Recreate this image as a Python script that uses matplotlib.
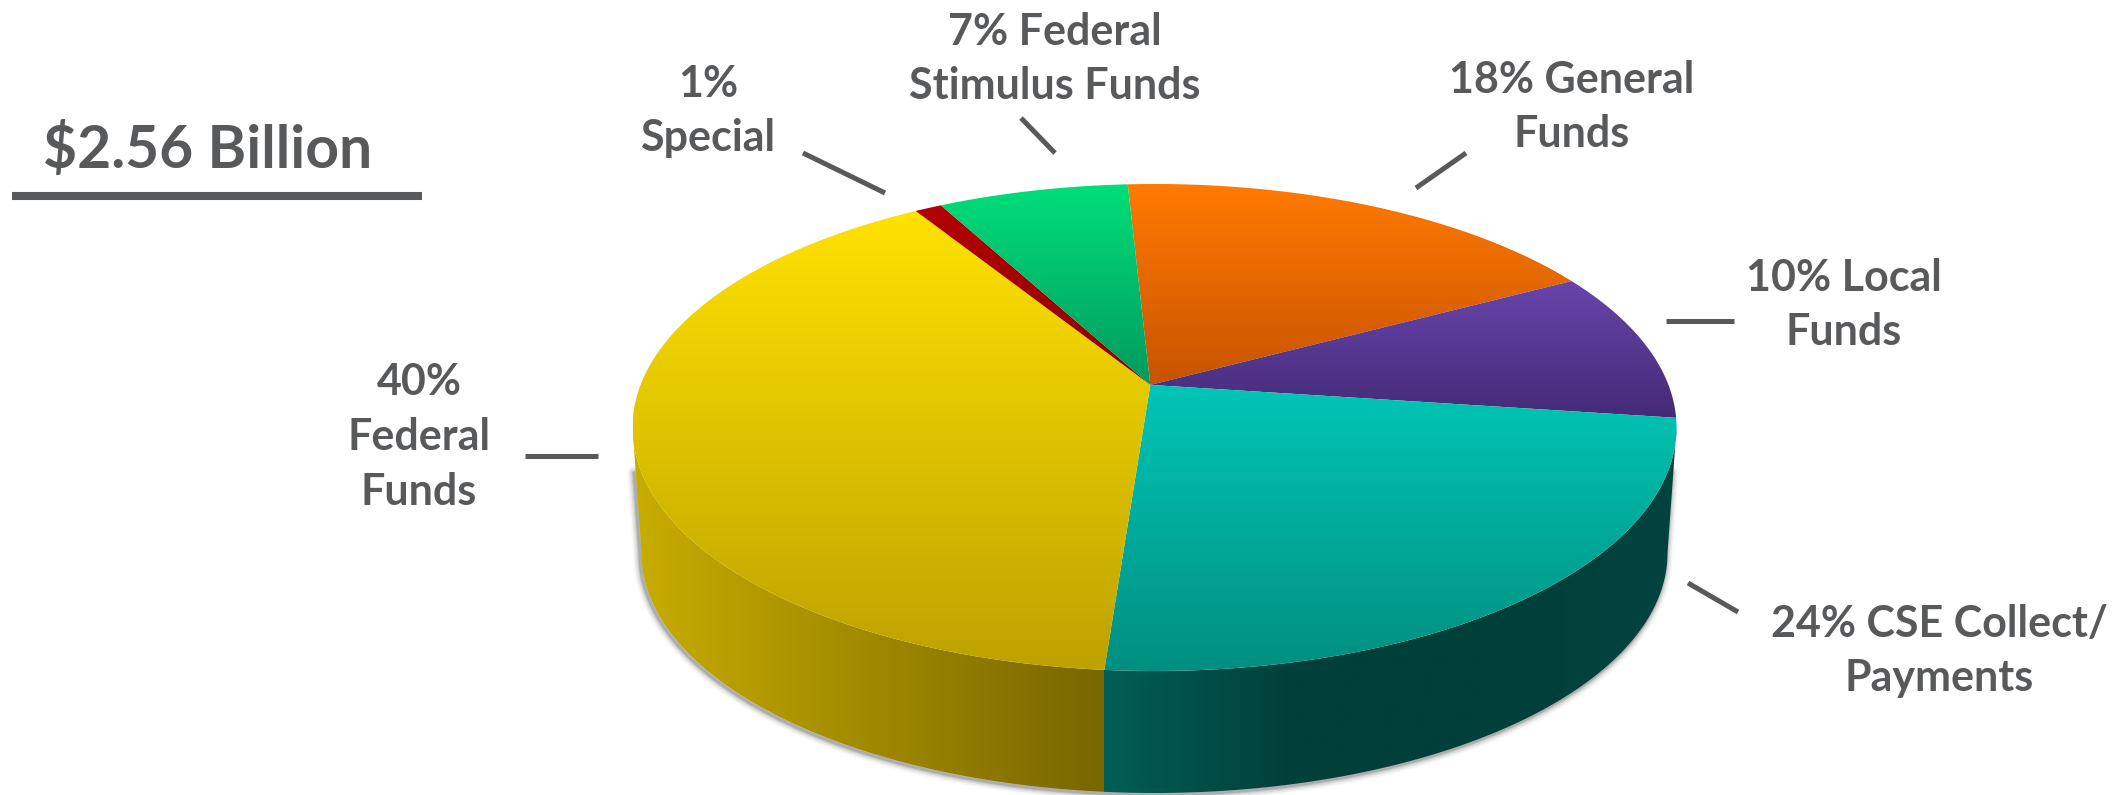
import numpy as np
import matplotlib
matplotlib.use("Agg")
import matplotlib.pyplot as plt
from matplotlib.colors import LinearSegmentedColormap
from matplotlib.patches import Polygon

plt.rcParams['font.family'] = ['Lato', 'DejaVu Sans']

# Funding shares, clockwise from the top of the pie
sources = ["General", "Local", "CSE", "Federal", "Special", "Stimulus"]
shares = [18, 10, 24, 40, 1, 7]
total_label = "$2.56 Billion"
labels = ["18% General\nFunds", "10% Local\nFunds", "24% CSE Collect/\nPayments",
          "40%\nFederal\nFunds", "1%\nSpecial", "7% Federal\nStimulus Funds"]

# Top and bottom colour of each slice
top_colors = ["#ff7a00", "#6845ab", "#00c6b6", "#ffe200", "#b40000", "#00de7a"]
bottom_colors = ["#c85400", "#442a76", "#008f80", "#bda200", "#8c0000", "#009a5e"]

TEXT = "#58595b"
WIDTH, HEIGHT = 2126, 795

# Geometry of the tilted disc, in pixels
CX, CY, RX, RY = 1154.5, 427.5, 522.0, 243.5
APEX_U, APEX_V = -0.008, -0.175
START_DEG = -3.0
WALL_RX, WALL_RY, WALL_CY = 513.0, 240.0, 553.0


def project(deg):
    # Perspective view of the unit circle, its centre landing on the apex
    t = np.radians(np.asarray(deg, dtype=float))
    q = np.stack([np.sin(t), -np.cos(t)], axis=-1)
    p = np.array([APEX_U, APEX_V])
    beta = np.hypot(*p)
    n = p / beta
    gamma = 1 / np.sqrt(1 - beta ** 2)
    along = q @ n
    perp = q - along[..., None] * n
    w = gamma * (1 + beta * along)
    res = ((gamma * (along + beta))[..., None] * n + perp) / w[..., None]
    return np.column_stack([CX + RX * res[..., 0], CY + RY * res[..., 1]])


def gradient(ax, clip_verts, extent, colors, vertical=True):
    cmap = LinearSegmentedColormap.from_list("g", colors)
    ramp = np.linspace(0, 1, 256)
    ramp = ramp[:, None] if vertical else ramp[None, :]
    im = ax.imshow(ramp, cmap=cmap, vmin=0, vmax=1, aspect='auto', origin='upper',
                   extent=extent, interpolation='bilinear', zorder=3)
    clip = Polygon(clip_verts, closed=True, transform=ax.transData, fc='none', ec='none')
    ax.add_patch(clip)
    im.set_clip_path(clip)


fig = plt.figure(figsize=(WIDTH / 100, HEIGHT / 100), dpi=100)
ax = fig.add_axes([0, 0, 1, 1])

edges = START_DEG + np.concatenate([[0], np.cumsum(shares)]) * 3.6
apex = np.array([CX + RX * APEX_U, CY + RY * APEX_V])

# Side wall outline: lower half of the top rim, then the lower rim back
a = np.radians(np.linspace(0, 180, 240))
rim = np.column_stack([CX + RX * np.cos(a), CY + RY * np.sin(a)])
lower = np.column_stack([CX + WALL_RX * np.cos(a[::-1]), WALL_CY + WALL_RY * np.sin(a[::-1])])
wall = np.vstack([rim, lower])

# Soft shadow hugging the lower rim and part way up both sides of the wall
side_left = rim[-1] + 0.35 * (lower[0] - rim[-1])
side_right = rim[0] + 0.35 * (lower[-1] - rim[0])
outline = np.vstack([side_left, lower, side_right]) + np.array([-1.5, 1.5])
for lw, alpha in [(14, 0.04), (11, 0.07), (8, 0.1), (5, 0.16), (3, 0.22)]:
    ax.plot(outline[:, 0], outline[:, 1], color='#555555', lw=lw * 0.72, alpha=alpha, zorder=1,
            solid_capstyle='round')

# Wall is split where the Federal / CSE boundary meets the front rim
seam = project([edges[3]])[0][0]
left_x, right_x = CX - RX, CX + RX
gradient(ax, wall, (left_x, seam, HEIGHT, 0), ["#c8ad00", "#786600"], vertical=False)
gradient(ax, wall, (seam, right_x, HEIGHT, 0), ["#005e56", "#003f3a", "#003f3a", "#00443f"],
         vertical=False)

# Top face
for i in range(len(shares)):
    arc = project(np.linspace(edges[i], edges[i + 1], max(int(shares[i]) * 6, 12)))
    verts = np.vstack([apex, arc])
    x0, y0 = verts.min(axis=0)
    x1, y1 = verts.max(axis=0)
    gradient(ax, verts, (x0, x1, y1, y0), [top_colors[i], bottom_colors[i]])

# Labels and their leader lines
label_pos = [(1572, 107), (1844, 305), (1939, 651), (419, 437), (708, 111), (1055, 59)]
leaders = [((1466, 153), (1416, 188)), ((1666, 321), (1734, 321)), ((1688, 583), (1738, 612)),
           ((525, 456), (598, 456)), ((803, 153), (885, 193)), ((1021, 118), (1055, 153))]
for text, (x, y), (s, e) in zip(labels, label_pos, leaders):
    ax.text(x, y, text, color=TEXT, fontsize=31, fontweight='bold', ha='center', va='center',
            linespacing=1.44, zorder=5)
    ax.plot([s[0], e[0]], [s[1], e[1]], color=TEXT, lw=3.6, solid_capstyle='butt', zorder=5)

ax.text(208, 150, total_label, color=TEXT, fontsize=42.3, fontweight='bold', ha='center', va='center')
ax.plot([12, 422], [196, 196], color=TEXT, lw=5.8, solid_capstyle='butt')

ax.set_xlim(0, WIDTH)
ax.set_ylim(HEIGHT, 0)
ax.axis('off')
fig.savefig("out.png", dpi=100)
